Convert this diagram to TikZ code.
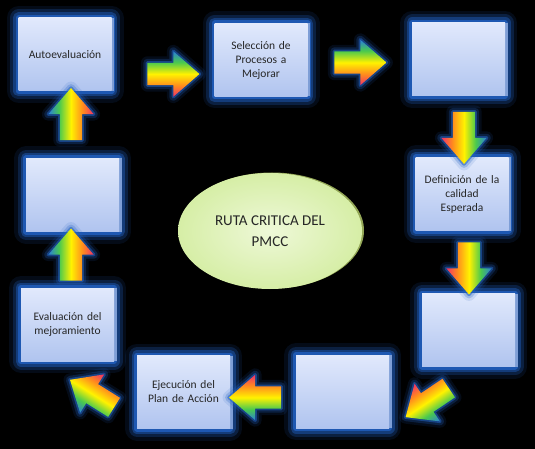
\documentclass[tikz,border=0pt]{standalone}
\usepackage{fontspec}
\setmainfont{Carlito}
\usepackage{tikz}
\usetikzlibrary{shapes.geometric,shapes.arrows}
\definecolor{glowblue}{HTML}{2160C0}
\definecolor{boxtop}{HTML}{E1E9FC}
\definecolor{boxbot}{HTML}{B0C4EF}
\definecolor{boxside}{HTML}{7E9ED6}
\definecolor{ovalin}{HTML}{EEF8D8}
\definecolor{ovalout}{HTML}{D6EEA6}
\definecolor{ovalrim}{HTML}{93A656}
\definecolor{txt}{HTML}{262626}
\definecolor{rbred}{HTML}{F0306A}
\definecolor{rborange}{HTML}{FF8A1E}
\definecolor{rbyellow}{HTML}{FFF200}
\definecolor{rbgreen}{HTML}{49C94E}
\definecolor{rbblue}{HTML}{2A7FD8}
\pgfdeclareverticalshading{rainbow}{100bp}{color(0bp)=(rbred); color(25bp)=(rbred);
  color(37bp)=(rborange); color(50bp)=(rbyellow); color(63bp)=(rbgreen);
  color(75bp)=(rbblue); color(100bp)=(rbblue)}
\tikzset{
  boxglow/.style={
    preaction={draw=glowblue, line width=24pt, opacity=0.12, line join=round},
    preaction={draw=glowblue, line width=17pt, opacity=0.25, line join=round},
    preaction={draw=glowblue, line width=11pt, opacity=0.45, line join=round},
    preaction={draw=glowblue, line width=6pt, opacity=0.80, line join=round}},
  arrowglow/.style={
    preaction={draw=glowblue, line width=13pt, opacity=0.12, line join=round},
    preaction={draw=glowblue, line width=8pt, opacity=0.25, line join=round},
    preaction={draw=glowblue, line width=3.5pt, opacity=0.55, line join=round}},
  fase/.style={rectangle, boxglow,
    preaction={fill=boxside, transform canvas={shift={(2.5pt,0pt)}}},
    top color=boxtop, bottom color=boxbot,
    minimum width=93pt, minimum height=73pt, inner sep=2pt,
    text width=86pt, align=center, text=txt,
    font=\fontsize{11.5}{14}\selectfont},
  flecha/.style={single arrow, arrowglow,
    single arrow head extend=11.5pt, single arrow tip angle=82,
    minimum height=52pt, inner xsep=0pt, inner ysep=11pt,
    shade, shading=rainbow, shading angle=#1, rotate=#1},
  flecha/.default=0
}

\begin{document}
\begin{tikzpicture}[x=1pt, y=-1pt]
  \path[fill=black, use as bounding box] (0,0) rectangle (535,449);

  % ciclo de fases
  \node[fase] (autoev) at (65,54.5) {Autoevaluación};
  \node[fase] (selec) at (261,60) {Selección de\\ Procesos a\\ Mejorar};
  \node[fase] (fase3) at (458.5,59.5) {};
  \node[fase] (defin) at (462,194) {Definición de la\\ calidad\\ Esperada};
  \node[fase] (fase5) at (468.5,330) {};
  \node[fase] (fase6) at (342.5,391.5) {};
  \node[fase] (ejec) at (183.5,392) {Ejecución del\\ Plan de Acción};
  \node[fase] (evalu) at (67.5,324.5) {Evaluación del\\ mejoramiento};
  \node[fase] (fase9) at (72.5,195) {};

  % centro
  \node[ellipse, minimum width=184pt, minimum height=116pt,
    preaction={fill=ovalrim, transform canvas={shift={(2pt,0.5pt)}}},
    inner color=ovalin, outer color=ovalout, align=center, text=txt,
    font=\fontsize{15}{21}\selectfont] (ruta) at (270,231)
    {RUTA CRITICA DEL\\ PMCC};

  % flechas
  \node[flecha] (f1) at (167,74) {};
  \node[flecha] (f2) at (354,62.5) {};
  \node[flecha=-90] (f3) at (464,131.5) {};
  \node[flecha=-90] (f4) at (469,262) {};
  \node[flecha=214] (f5) at (432.5,399) {};
  \node[flecha=180] (f6) at (261.5,397.5) {};
  \node[flecha=148] (f7) at (97.5,397) {};
  \node[flecha=90] (f8) at (71,261) {};
  \node[flecha=90] (f9) at (71,120.5) {};
\end{tikzpicture}
\end{document}
